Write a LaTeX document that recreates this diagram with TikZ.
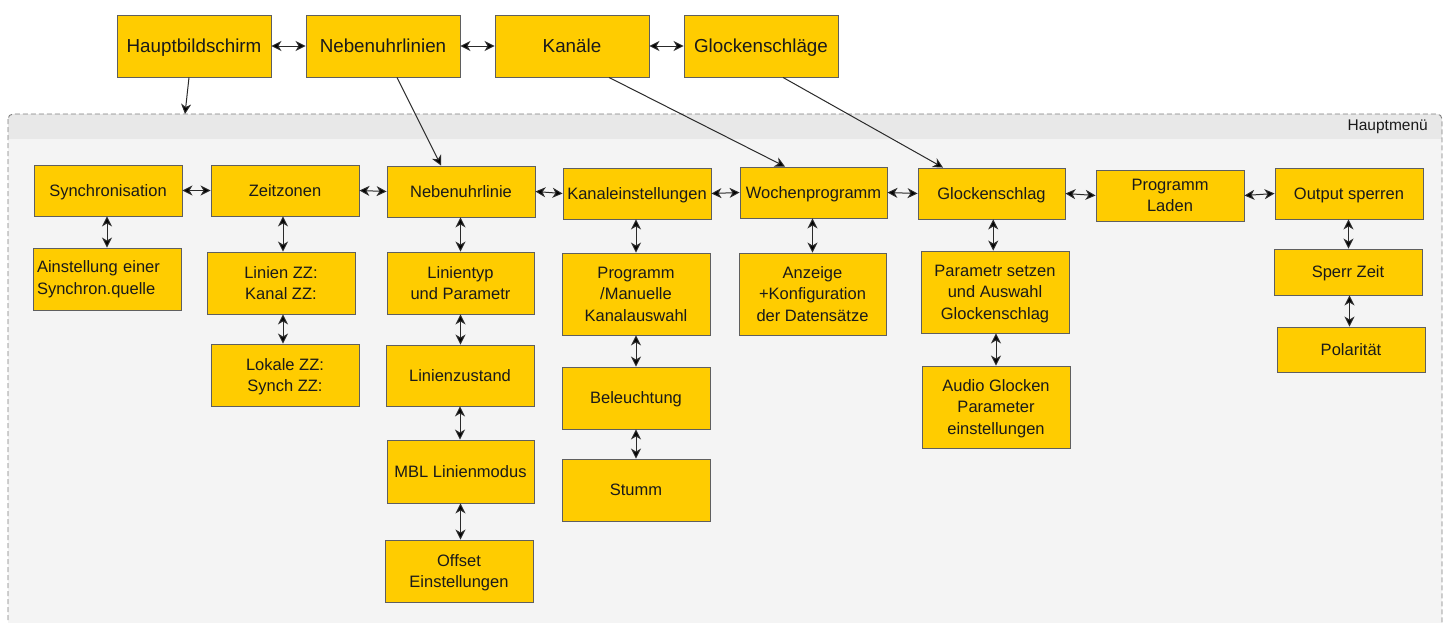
\documentclass[tikz,border=0pt]{standalone}
\usepackage{fontspec}
\setmainfont{Liberation Sans}
\usetikzlibrary{arrows.meta,calc}
\definecolor{boxfill}{HTML}{FFCC00}
\definecolor{boxline}{HTML}{5F5F5F}
\definecolor{contfill}{HTML}{F4F4F4}
\definecolor{headfill}{HTML}{E8E8E8}
\definecolor{dashcol}{HTML}{7F7F7F}
\definecolor{txt}{HTML}{1A1A1A}
\definecolor{linecol}{HTML}{2A2A2A}
\begin{document}
\begin{tikzpicture}[x=1pt,y=-1pt,
  ybox/.style={draw=boxline, fill=boxfill, line width=0.9pt, text=txt,
    font=\fontsize{16.5}{21.5}\selectfont, align=center, inner sep=1pt, text depth=0pt,
    minimum width=148pt, minimum height=#1},
  tbox/.style={draw=boxline, fill=boxfill, line width=0.9pt, text=txt,
    font=\fontsize{18.8}{22}\selectfont, align=center, inner sep=1pt, text depth=0pt,
    minimum width=154pt, minimum height=62pt},
  tip/.style={Stealth[length=10pt,width=10pt,inset=3pt,fill=black]},
  biarr/.style={{Stealth[length=10pt,width=10pt,inset=3pt,fill=black]}-{Stealth[length=10pt,width=10pt,inset=3pt,fill=black]},
    draw=linecol, line width=1pt},
  onearr/.style={-{Stealth[length=10pt,width=10pt,inset=3pt,fill=black]}, draw=linecol, line width=1pt},
  contlabel/.style={text=txt, font=\fontsize{15.5}{18}\selectfont, inner sep=0pt}
]
\clip (0,0) rectangle (1449,622);
\fill[white] (0,0) rectangle (1449,622);

% container (Hauptmenue)
\fill[contfill, rounded corners=5pt] (8,114) rectangle (1442,680);
\begin{scope}
  \clip[rounded corners=5pt] (8,114) rectangle (1442,680);
  \fill[headfill] (8,114) rectangle (1442,139);
\end{scope}
\draw[dashcol, dash pattern=on 5pt off 3pt, line width=0.9pt, rounded corners=5pt]
  (8,114) rectangle (1442,680);
\node[contlabel, anchor=east] (hm) at (1428,127) {Hauptmenü};
\coordinate (mtop) at (185,114);

% top row
\node[tbox] (hb) at (194,46) {Hauptbildschirm};
\node[tbox] (nl) at (383,46) {Nebenuhrlinien};
\node[tbox] (ka) at (572,46) {Kanäle};
\node[tbox] (gs) at (761,46) {Glockenschläge};

% row 1
\node[ybox=51pt] (sync) at (108,190.5) {Synchronisation};
\node[ybox=51pt] (zz) at (285,190.5) {Zeitzonen};
\node[ybox=51pt] (nul) at (461,191.5) {Nebenuhrlinie};
\node[ybox=51pt] (kae) at (637,193.5) {Kanaleinstellungen};
\node[ybox=51pt, minimum width=147pt] (woc) at (813.5,192.5) {Wochenprogramm};
\node[ybox=51pt, minimum width=147pt] (gls) at (991.5,193.5) {Glockenschlag};
\node[ybox=51pt] (pl) at (1170,195.5) {Programm\\Laden};
\node[ybox=51pt] (out) at (1349,193.5) {Output sperren};

% row 2
\node[ybox=62pt, text width=140pt, align=left, inner xsep=4pt, text depth=] (ain) at (107,279) {Ainstellung einer\\Synchron.quelle};
\node[ybox=62pt] (lzz) at (281,283) {Linien ZZ:\\Kanal ZZ:};
\node[ybox=62pt, minimum width=147pt] (lt) at (460.5,283) {Linientyp\\und Parametr};
\node[ybox=82pt] (prg) at (636,294) {Programm\\/Manuelle\\Kanalauswahl};
\node[ybox=82pt, minimum width=147pt] (anz) at (812.5,294) {Anzeige\\+Konfiguration\\der Datensätze};
\node[ybox=82pt] (par) at (995,292) {Parametr setzen\\und Auswahl\\Glockenschlag};
\node[ybox=46pt] (sz) at (1348,272) {Sperr Zeit};
\node[ybox=45pt] (pol) at (1351,349.5) {Polarität};

% row 3
\node[ybox=62pt] (lok) at (285,375) {Lokale ZZ:\\Synch ZZ:};
\node[ybox=61pt] (lz) at (460,375.5) {Linienzustand};
\node[ybox=62pt] (bel) at (636,398) {Beleuchtung};
\node[ybox=82pt] (aud) at (996,407) {Audio Glocken\\Parameter\\einstellungen};

% row 4
\node[ybox=63pt, minimum width=147pt] (mbl) at (460.5,471.5) {MBL Linienmodus};
\node[ybox=62pt] (stu) at (636,490) {Stumm};

% row 5
\node[ybox=62pt] (off) at (459,571) {Offset\\Einstellungen};

% top row connectors
\draw[biarr] (hb.east) -- (nl.west);
\draw[biarr] (nl.east) -- (ka.west);
\draw[biarr] (ka.east) -- (gs.west);

% diagonal connectors
\draw[onearr] ([xshift=-5pt]hb.south) -- (mtop);
\draw[onearr] ([xshift=14pt]nl.south) -- ([xshift=-20pt]nul.north);
\draw[onearr] ([xshift=37pt]ka.south) -- ([xshift=-28.5pt]woc.north);
\draw[onearr] ([xshift=22pt]gs.south) -- ([xshift=-48.5pt]gls.north);

% row 1 horizontal connectors
\draw[biarr] (sync.east) -- (zz.west);
\draw[biarr] (zz.east) -- (nul.west);
\draw[biarr] (nul.east) -- (kae.west);
\draw[biarr] (kae.east) -- (woc.west);
\draw[biarr] (woc.east) -- (gls.west);
\draw[biarr] (gls.east) -- (pl.west);
\draw[biarr] (pl.east) -- (out.west);

% vertical connectors
\draw[biarr] (ain.north |- sync.south) -- (ain.north);
\draw[biarr] ($(zz.south)!0.5!(zz.south -| lzz.north)$) -- ($(lzz.north)!0.5!(lzz.north -| zz.south)$);
\draw[biarr] ($(lzz.south)!0.5!(lzz.south -| lok.north)$) -- ($(lok.north)!0.5!(lok.north -| lzz.south)$);
\draw[biarr] (lt.north |- nul.south) -- (lt.north);
\draw[biarr] (lt.south) -- (lz.north -| lt.south);
\draw[biarr] (lz.south) -- (mbl.north -| lz.south);
\draw[biarr] (mbl.south) -- (off.north -| mbl.south);
\draw[biarr] (prg.north |- kae.south) -- (prg.north);
\draw[biarr] (prg.south) -- (bel.north);
\draw[biarr] (bel.south) -- (stu.north);
\draw[biarr] (anz.north |- woc.south) -- (anz.north);
\draw[biarr] ($(gls.south)!0.5!(gls.south -| par.north)$) -- ($(par.north)!0.5!(par.north -| gls.south)$);
\draw[biarr] (par.south -| aud.north) -- (aud.north);
\draw[biarr] ($(out.south)!0.5!(out.south -| sz.north)$) -- ($(sz.north)!0.5!(sz.north -| out.south)$);
\draw[biarr] ($(sz.south)!0.5!(sz.south -| pol.north)$) -- ($(pol.north)!0.5!(pol.north -| sz.south)$);
\end{tikzpicture}
\end{document}
